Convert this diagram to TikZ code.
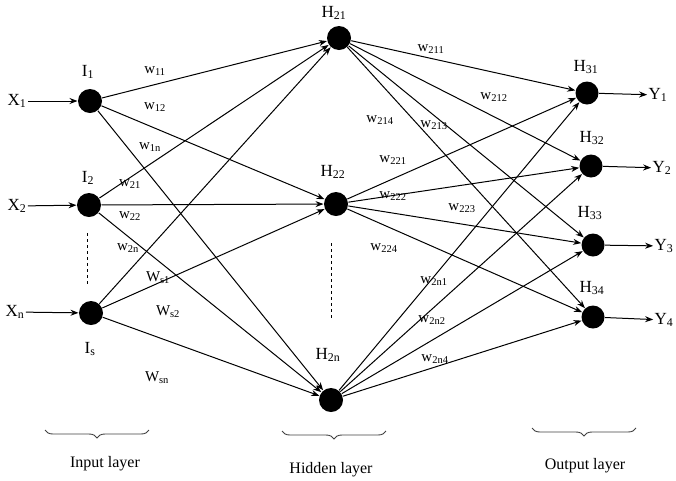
\documentclass[tikz,border=0pt]{standalone}
\usepackage{fontspec}
\setmainfont{Liberation Serif}
\usetikzlibrary{arrows.meta,decorations.pathreplacing}
\begin{document}
\begin{tikzpicture}[x=1pt,y=-1pt,line width=1pt,>={Stealth[length=8pt,width=6pt]},
    neuron/.style={circle,fill=black,minimum size=24pt,inner sep=0pt},
    lab/.style={font=\fontsize{17}{19}\selectfont,inner sep=1pt},
    wt/.style={font=\fontsize{15}{17}\selectfont,inner sep=1pt},
    layername/.style={font=\fontsize{16}{18}\selectfont,inner sep=1pt},
    layerbrace/.style={decorate,decoration={brace,mirror,amplitude=8pt},line width=0.9pt,gray!50!black}]
    \useasboundingbox (0,0) rectangle (676,480);
    % neurons
    \node[neuron](i1)at(90,101){};
    \node[neuron](i2)at(89,205){};
    \node[neuron](is)at(91,313){};
    \node[neuron](h1)at(339,38){};
    \node[neuron](h2)at(336,204){};
    \node[neuron](hn)at(331,400){};
    \node[neuron,minimum size=23pt](o1)at(587,93){};
    \node[neuron,minimum size=23pt](o2)at(591,166){};
    \node[neuron,minimum size=23pt](o3)at(593,245){};
    \node[neuron,minimum size=23pt](o4)at(593,317){};
    % neuron names
    \node[lab](ni1)at(88,72){I\textsubscript{1}};
    \node[lab](ni2)at(88,178){I\textsubscript{2}};
    \node[lab](nis)at(90,349){I\textsubscript{s}};
    \node[lab](nh1)at(334,13){H\textsubscript{21}};
    \node[lab](nh2)at(333,172){H\textsubscript{22}};
    \node[lab](nhn)at(328,355){H\textsubscript{2n}};
    \node[lab](no1)at(586,67){H\textsubscript{31}};
    \node[lab](no2)at(592,138){H\textsubscript{32}};
    \node[lab](no3)at(590,213){H\textsubscript{33}};
    \node[lab](no4)at(592,288){H\textsubscript{34}};
    % inputs and outputs
    \node[lab](x1)at(17,101){X\textsubscript{1}};
    \node[lab](x2)at(17,206){X\textsubscript{2}};
    \node[lab](xn)at(15,312){X\textsubscript{n}};
    \node[lab](y1)at(658,95){Y\textsubscript{1}};
    \node[lab](y2)at(662,168){Y\textsubscript{2}};
    \node[lab](y3)at(664,246){Y\textsubscript{3}};
    \node[lab](y4)at(664,320){Y\textsubscript{4}};
    \draw[->](x1)--(i1);
    \draw[->](x2)--(i2);
    \draw[->](xn)--(is);
    \draw[->](o1)--(y1);
    \draw[->](o2)--(y2);
    \draw[->](o3)--(y3);
    \draw[->](o4)--(y4);
    % connections
    \foreach \a in {i1,i2,is}
        \foreach \b in {h1,h2,hn}
            \draw[->](\a)--(\b);
    \foreach \a in {h1,h2,hn}
        \foreach \b in {o1,o2,o3,o4}
            \draw[->](\a)--(\b);
    % dots between neurons
    \draw[dashed,line width=0.8pt](87,233)--(87,286);
    \draw[dashed,line width=0.8pt](331,243)--(331,320);
    % weights
    \node[wt](w11)at(155,71){w\textsubscript{11}};
    \node[wt](w12)at(155,107){w\textsubscript{12}};
    \node[wt](w1n)at(150,147){w\textsubscript{1n}};
    \node[wt](w21)at(130,184){w\textsubscript{21}};
    \node[wt](w22)at(130,216){w\textsubscript{22}};
    \node[wt](w2n)at(128,248){w\textsubscript{2n}};
    \node[wt](ws1)at(158,278){W\textsubscript{s1}};
    \node[wt](ws2)at(168,312){W\textsubscript{s2}};
    \node[wt](wsn)at(157,378){W\textsubscript{sn}};
    \node[wt](w211)at(431,49){w\textsubscript{211}};
    \node[wt](w212)at(494,97){w\textsubscript{212}};
    \node[wt](w214)at(380,120){w\textsubscript{214}};
    \node[wt](w213)at(434,125){w\textsubscript{213}};
    \node[wt](w221)at(393,160){w\textsubscript{221}};
    \node[wt](w222)at(393,196){w\textsubscript{222}};
    \node[wt](w223)at(462,208){w\textsubscript{223}};
    \node[wt](w224)at(384,248){w\textsubscript{224}};
    \node[wt](w2n1)at(434,281){w\textsubscript{2n1}};
    \node[wt](w2n2)at(432,320){w\textsubscript{2n2}};
    \node[wt](w2n4)at(435,359){w\textsubscript{2n4}};
    % layers
    \draw[layerbrace](45,430)--(149,430);
    \draw[layerbrace](282,431)--(386,431);
    \draw[layerbrace](532,428)--(636,428);
    \node[layername](inlayer)at(105,464){Input layer};
    \node[layername](hidlayer)at(331,470){Hidden layer};
    \node[layername](outlayer)at(585,466){Output layer};
\end{tikzpicture}
\end{document}
